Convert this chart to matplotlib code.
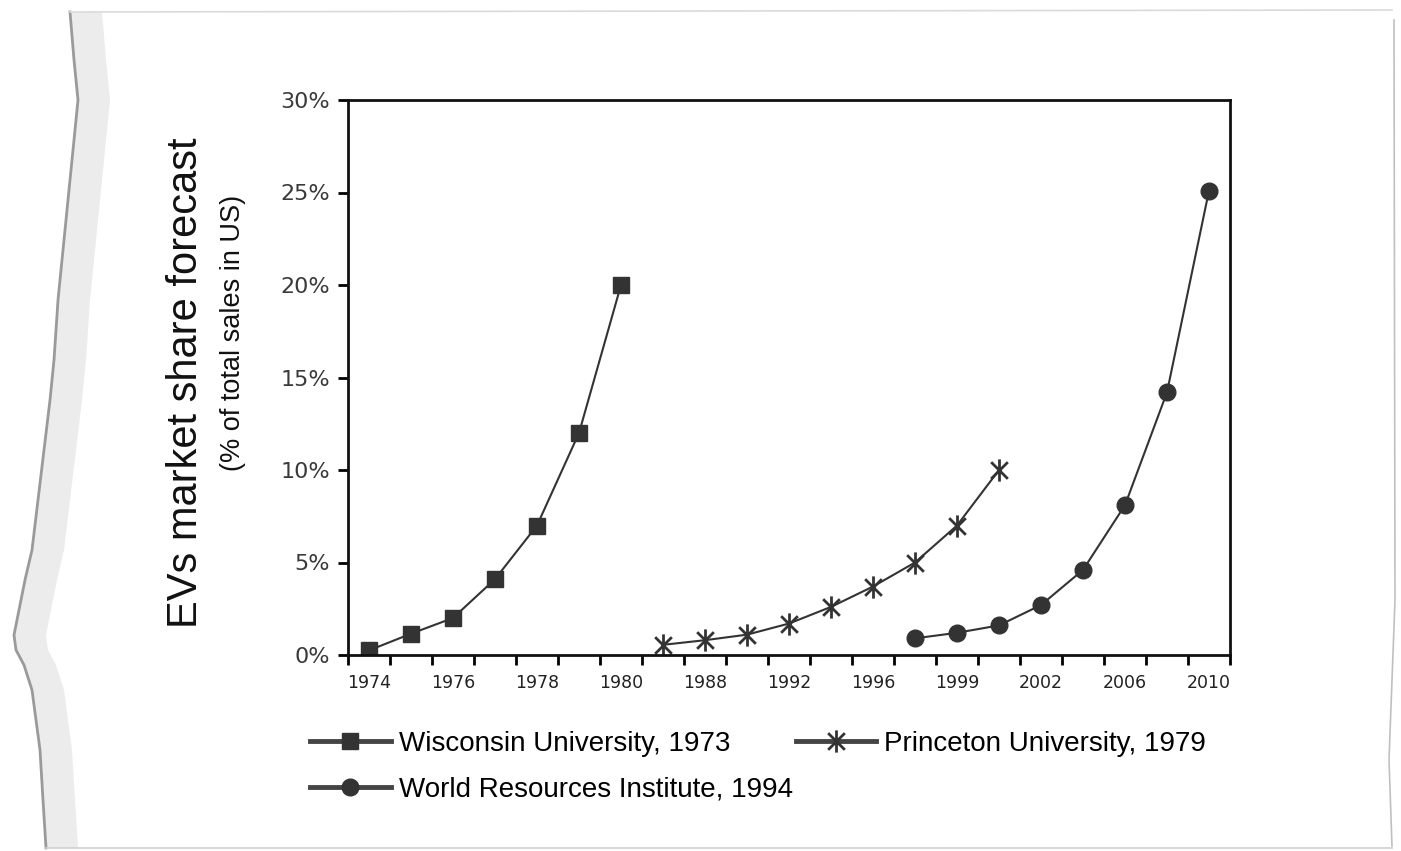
import matplotlib
matplotlib.use("Agg")
import matplotlib.pyplot as plt
import numpy as np
from matplotlib.patches import Polygon
from matplotlib.lines import Line2D
from matplotlib.path import Path

plt.rcParams["font.family"] = ["Liberation Sans", "DejaVu Sans"]

# category axis (Excel-style, one slot per year, labels on every other slot)
categories = ["1974", "1975", "1976", "1977", "1978", "1979", "1980",
              "1986", "1988", "1990", "1992", "1994", "1996", "1998",
              "1999", "2000", "2002", "2004", "2006", "2008", "2010"]

# forecasts in % of total US sales
wisconsin_idx = [0, 1, 2, 3, 4, 5, 6]
wisconsin_val = [0.25, 1.15, 2.0, 4.1, 7.0, 12.0, 20.0]

princeton_idx = [7, 8, 9, 10, 11, 12, 13, 14, 15]
princeton_val = [0.55, 0.8, 1.1, 1.7, 2.6, 3.7, 5.0, 7.0, 10.0]

wri_idx = [13, 14, 15, 16, 17, 18, 19, 20]
wri_val = [0.9, 1.2, 1.6, 2.7, 4.6, 8.1, 14.2, 25.1]

W, H = 1401, 851
fig = plt.figure(figsize=(W / 100, H / 100), dpi=100)
fig.patch.set_facecolor("white")

# torn paper edge on the left, faint borders elsewhere
edge_y = [12, 60, 100, 160, 200, 260, 300, 360, 400, 450, 500, 550, 580, 615, 635, 650, 665, 690, 750, 800, 848]
edge_x = [70, 74, 78, 72, 68, 62, 58, 54, 50, 44, 38, 32, 25, 18, 14, 16, 24, 32, 40, 43, 46]
ex = np.array(edge_x) / W
ey = 1 - np.array(edge_y) / H
band = np.concatenate([np.column_stack([ex, ey]),
                       np.column_stack([ex[::-1] + 32 / W, ey[::-1]])])
fig.add_artist(Polygon(band, closed=True, facecolor="#ececec", edgecolor="none",
                       transform=fig.transFigure, zorder=0))
fig.add_artist(Line2D(ex, ey, color="#9a9a9a", lw=2.0, transform=fig.transFigure))
fig.add_artist(Line2D([70 / W, 1392 / W], [1 - 12 / H, 1 - 10 / H], color="#dadada",
                      lw=1.2, transform=fig.transFigure))
fig.add_artist(Line2D([46 / W, 1392 / W], [1 - 848 / H, 1 - 848 / H], color="#d0d0d0",
                      lw=1.2, transform=fig.transFigure))
fig.add_artist(Line2D([1394 / W, 1395 / W, 1389 / W, 1392 / W],
                      [1 - 20 / H, 1 - 600 / H, 1 - 760 / H, 1 - 846 / H],
                      color="#c0c0c0", lw=1.2, transform=fig.transFigure))

ax = fig.add_axes([348 / W, 1 - 655 / H, (1230 - 348) / W, (655 - 100) / H])

# Excel-style star: vertical bar plus an x
star = Path([(0, -1), (0, 1), (-0.75, -0.75), (0.75, 0.75), (-0.75, 0.75), (0.75, -0.75)],
            [Path.MOVETO, Path.LINETO, Path.MOVETO, Path.LINETO, Path.MOVETO, Path.LINETO])

line_kw = dict(color="#333333", lw=1.5, markeredgecolor="#333333", markerfacecolor="#333333")
l1, = ax.plot(wisconsin_idx, wisconsin_val, marker="s", markersize=11, **line_kw,
              label="Wisconsin University, 1973")
l2, = ax.plot(princeton_idx, princeton_val, marker=star, markersize=16,
              markeredgewidth=2.0, **line_kw, label="Princeton University, 1979")
l3, = ax.plot(wri_idx, wri_val, marker="o", markersize=12, **line_kw,
              label="World Resources Institute, 1994")

ax.set_xlim(-0.5, len(categories) - 0.5)
ax.set_ylim(0, 30)

ax.set_xticks(np.arange(-0.5, len(categories), 1.0))
ax.set_xticklabels([])
ax.tick_params(axis="x", which="major", direction="out", length=7, width=2)
label_pos = list(range(0, len(categories), 2))
ax.set_xticks(label_pos, minor=True)
ax.set_xticklabels([categories[i] for i in label_pos], minor=True,
                   fontsize=12.5, color="#222222", family="DejaVu Sans")
ax.tick_params(axis="x", which="minor", length=0, pad=14)

yt = np.arange(0, 31, 5)
ax.set_yticks(yt)
ax.set_yticklabels([f"{v}%" for v in yt], fontsize=16, color="#3a3a3a",
                   family="DejaVu Sans")
ax.tick_params(axis="y", direction="out", length=7, width=2, pad=6)

for s in ax.spines.values():
    s.set_linewidth(2)
    s.set_color("#111111")

fig.text(186 / W, 1 - 383 / H, "EVs market share forecast", rotation=90,
         ha="center", va="center", fontsize=30, color="#111111")
fig.text(233 / W, 1 - 333 / H, "(% of total sales in US)", rotation=90,
         ha="center", va="center", fontsize=19.5, color="#111111")

# Excel-like legend: two entries on the first row, one on the second
leg_kw = dict(frameon=False, fontsize=20, handlelength=2.9, handletextpad=0.3,
              borderpad=0, borderaxespad=0)
leg1 = fig.legend(handles=[l1, l2], ncol=2, loc="center left",
                  bbox_to_anchor=(310 / W, 1 - 744 / H), columnspacing=2.35, **leg_kw)
leg2 = fig.legend(handles=[l3], loc="center left",
                  bbox_to_anchor=(310 / W, 1 - 790 / H), **leg_kw)
for leg in (leg1, leg2):
    for h in leg.legend_handles:
        h.set_linewidth(3.5)
        h.set_color("#444444")

fig.savefig("out.png", dpi=100, facecolor="white")
